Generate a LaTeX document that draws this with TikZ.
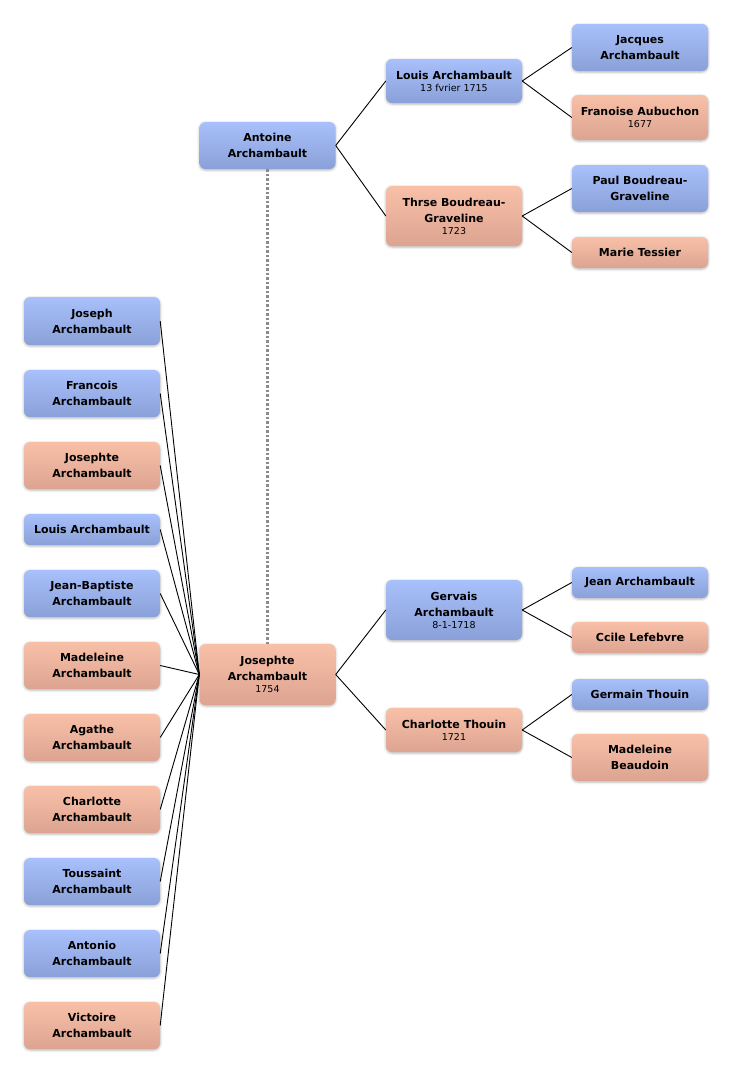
\documentclass[tikz,border=0pt]{standalone}
\usepackage{fontspec}
\setmainfont{DejaVu Sans}
\usetikzlibrary{shadows.blur}
\definecolor{btop}{HTML}{A8C0FB}
\definecolor{bbot}{HTML}{8AA0D8}
\definecolor{ptop}{HTML}{F9C0A8}
\definecolor{pbot}{HTML}{DCA491}
\definecolor{dotgray}{HTML}{8A8A8A}
\newcommand{\dte}[1]{{\normalfont\fontsize{9.5}{11}\selectfont #1}}
\tikzset{
  person/.style={rectangle, rounded corners=6pt, minimum width=136pt, inner sep=0pt,
    align=center, font=\bfseries\fontsize{11}{16}\selectfont,
    blur shadow={shadow xshift=0pt, shadow yshift=-1pt, shadow blur radius=2.5pt, shadow opacity=30}},
  m/.style={person, top color=btop, bottom color=bbot},
  f/.style={person, top color=ptop, bottom color=pbot},
  link/.style={draw=black, line width=0.9pt},
  dots/.style={draw=dotgray, line width=2.2pt, dash pattern=on 2.5pt off 2pt}
}
\begin{document}
\begin{tikzpicture}[x=1pt,y=-1pt]
\useasboundingbox (0,0) rectangle (732,1074);
% top branch
\node[m, minimum height=47pt] (antoine) at (267.5,145.5) {Antoine\\Archambault};
\node[m, minimum height=44pt] (louis) at (454,81) {Louis Archambault\\[-4pt]\dte{13 fvrier 1715}};
\node[f, minimum height=60pt] (therese) at (454,216) {Thrse Boudreau-\\Graveline\\[-4pt]\dte{1723}};
\node[m, minimum height=47pt] (jacques) at (640,47.5) {Jacques\\Archambault};
\node[f, minimum height=45pt] (francoise) at (640,117.5) {Franoise Aubuchon\\[-4pt]\dte{1677}};
\node[m, minimum height=47pt] (paul) at (640,188.5) {Paul Boudreau-\\Graveline};
\node[f, minimum height=31pt] (marie) at (640,252.5) {Marie Tessier};
% bottom branch
\node[f, minimum height=61pt] (josephte) at (267.5,674.5) {Josephte\\Archambault\\[-4pt]\dte{1754}};
\node[m, minimum height=60pt] (gervais) at (454,610) {Gervais\\Archambault\\[-4pt]\dte{8-1-1718}};
\node[f, minimum height=44pt] (charlotteT) at (454,730) {Charlotte Thouin\\[-4pt]\dte{1721}};
\node[m, minimum height=31pt] (jean) at (640,582.5) {Jean Archambault};
\node[f, minimum height=31pt] (cecile) at (640,637.5) {Ccile Lefebvre};
\node[m, minimum height=31pt] (germain) at (640,694.5) {Germain Thouin};
\node[f, minimum height=47pt] (madB) at (640,757.5) {Madeleine\\Beaudoin};
% children column
\node[m, minimum height=48pt] (c1) at (92,321) {Joseph\\Archambault};
\node[m, minimum height=47pt] (c2) at (92,393.5) {Francois\\Archambault};
\node[f, minimum height=47pt] (c3) at (92,465.5) {Josephte\\Archambault};
\node[m, minimum height=31pt] (c4) at (92,529.5) {Louis Archambault};
\node[m, minimum height=47pt] (c5) at (92,593.5) {Jean-Baptiste\\Archambault};
\node[f, minimum height=47pt] (c6) at (92,665.5) {Madeleine\\Archambault};
\node[f, minimum height=47pt] (c7) at (92,737.5) {Agathe\\Archambault};
\node[f, minimum height=47pt] (c8) at (92,809.5) {Charlotte\\Archambault};
\node[m, minimum height=47pt] (c9) at (92,881.5) {Toussaint\\Archambault};
\node[m, minimum height=47pt] (c10) at (92,953.5) {Antonio\\Archambault};
\node[f, minimum height=47pt] (c11) at (92,1025.5) {Victoire\\Archambault};
% connectors
\draw[link] (antoine.east) -- (louis.west);
\draw[link] (antoine.east) -- (therese.west);
\draw[link] (louis.east) -- (jacques.west);
\draw[link] (louis.east) -- (francoise.west);
\draw[link] (therese.east) -- (paul.west);
\draw[link] (therese.east) -- (marie.west);
\draw[link] (josephte.east) -- (gervais.west);
\draw[link] (josephte.east) -- (charlotteT.west);
\draw[link] (gervais.east) -- (jean.west);
\draw[link] (gervais.east) -- (cecile.west);
\draw[link] (charlotteT.east) -- (germain.west);
\draw[link] (charlotteT.east) -- (madB.west);
\foreach \c in {c1,c2,c3,c4,c5,c6,c7,c8,c9,c10,c11}
  \draw[link] (\c.east) -- (josephte.west);
\draw[dots] (antoine.south) -- (josephte.north);
\end{tikzpicture}
\end{document}
